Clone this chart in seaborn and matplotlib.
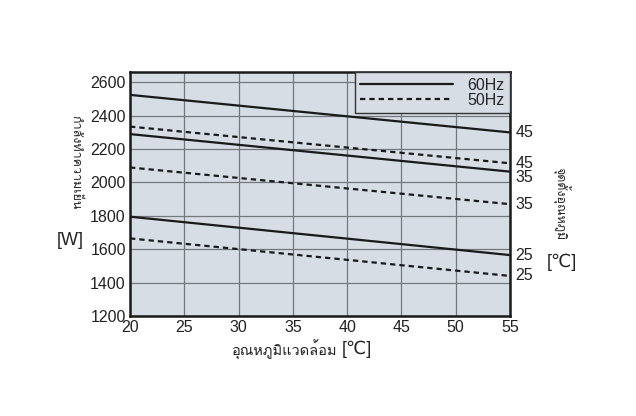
import numpy as np
import pandas as pd
import seaborn as sns
import matplotlib
matplotlib.use('Agg')
import matplotlib.pyplot as plt
from matplotlib import font_manager
from matplotlib.ft2font import FT2Font
from matplotlib.lines import Line2D

# ambient temperature (x) and capacity at the ends of each line
ambient = [20, 55]
setpoints = [45, 35, 25]
cap_60hz = {45: [2525, 2300], 35: [2290, 2065], 25: [1795, 1565]}
cap_50hz = {45: [2335, 2115], 35: [2090, 1870], 25: [1665, 1440]}

y_ticks = [1200, 1400, 1600, 1800, 2000, 2200, 2400, 2600]
x_ticks = [20, 25, 30, 35, 40, 45, 50, 55]


def find_thai_font():
    # look for an installed font that has Thai glyphs
    for f in font_manager.fontManager.ttflist:
        try:
            cmap = FT2Font(f.fname).get_charmap()
        except Exception:
            continue
        if 0x0E01 in cmap and 0x0E33 in cmap:
            return f.name
    return None


rows = []
for sp in setpoints:
    for x, y in zip(ambient, cap_60hz[sp]):
        rows.append({'ambient': x, 'capacity': y, 'freq': '60Hz', 'line': f'60-{sp}'})
    for x, y in zip(ambient, cap_50hz[sp]):
        rows.append({'ambient': x, 'capacity': y, 'freq': '50Hz', 'line': f'50-{sp}'})
df = pd.DataFrame(rows)

sns.set_style('white')
thai = find_thai_font()
families = ['Liberation Sans', 'DejaVu Sans']
if thai:
    families = ['Liberation Sans', thai, 'DejaVu Sans']
plt.rcParams['font.family'] = families

fig = plt.figure(figsize=(6.36, 4.16), dpi=100)
ax = fig.add_axes([0.2044, 0.2404, 0.5975, 0.5865])
ax.set_facecolor('#d6dde4')

sns.lineplot(data=df, x='ambient', y='capacity', style='freq', units='line',
             estimator=None, color='#1a1a1a', linewidth=1.6,
             dashes={'60Hz': '', '50Hz': (2.4, 1.8)}, legend=False, ax=ax, zorder=3)

ax.set_xlim(20, 55)
ax.set_ylim(1200, 2662)
ax.set_xticks(x_ticks)
ax.set_yticks(y_ticks)
ax.tick_params(axis='both', length=0, labelsize=11.5, pad=3, colors='#222222')
ax.grid(True, color='#73787d', linewidth=0.9)
ax.set_axisbelow(True)
for s in ax.spines.values():
    s.set_linewidth(1.8)
    s.set_color('#1a1a1a')
ax.set_xlabel('')
ax.set_ylabel('')

# right-hand set point labels
offsets = {('60Hz', 45): 0, ('50Hz', 45): 0, ('60Hz', 35): -4,
           ('50Hz', 35): 0, ('60Hz', 25): 0, ('50Hz', 25): 0}
for sp in setpoints:
    for freq, caps in (('60Hz', cap_60hz), ('50Hz', cap_50hz)):
        ax.annotate(str(sp), xy=(55, caps[sp][1]), xytext=(4, offsets[(freq, sp)]),
                    textcoords='offset points', va='center', ha='left',
                    fontsize=11.5, color='#222222', annotation_clip=False)

handles = [Line2D([], [], color='#1a1a1a', lw=1.6, ls='-'),
           Line2D([], [], color='#1a1a1a', lw=1.6, ls=(0, (2.4, 1.8)))]
leg = ax.legend(handles, ['60Hz', '50Hz'], loc='upper right', fontsize=11.5,
                handlelength=5.8, handletextpad=0.9, borderpad=0.35, labelspacing=0.0,
                borderaxespad=0.0, fancybox=False, framealpha=1, facecolor='#d6dde4',
                edgecolor='#333333')
leg.get_frame().set_linewidth(1.0)

# axis titles
fig.text(0.118, 0.61, 'กำลังทำความเย็น', rotation=-90, ha='center', va='center',
         fontsize=9, color='#222222')
fig.text(0.11, 0.423, '[W]', ha='center', va='center', fontsize=13, color='#222222')
fig.text(0.882, 0.51, 'จุดตั้งอุณหภูมิ', rotation=-90, ha='center', va='center',
         fontsize=9, color='#222222')
fig.text(0.884, 0.37, '[℃]', ha='center', va='center', fontsize=13, color='#222222')
fig.text(0.53, 0.158, 'อุณหภูมิแวดล้อม', ha='right', va='center', fontsize=10.5,
         color='#222222')
fig.text(0.561, 0.16, '[℃]', ha='center', va='center', fontsize=13, color='#222222')

fig.savefig('out.png', dpi=100, facecolor='white')
